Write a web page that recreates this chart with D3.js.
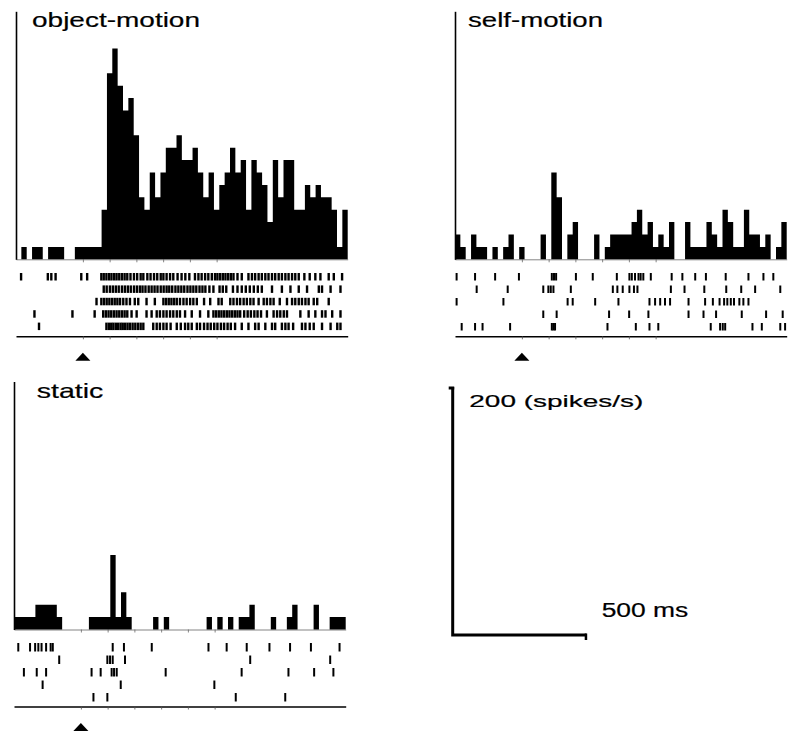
<!DOCTYPE html>
<html><head><meta charset="utf-8">
<script src="https://cdn.jsdelivr.net/npm/d3@7"></script>
<style>html,body{margin:0;padding:0;background:#fff}</style>
</head><body>
<svg id="chart" width="793" height="733" xmlns="http://www.w3.org/2000/svg"></svg>
<script>
// ---------- data ----------
const binMs = 20;            // histogram bin width (ms)
const nBins = 62;            // bins per histogram
const stimOnset = 250;       // ms, marked by the triangle
const tickTimes = [250, 350, 450, 550, 650, 750];
const panelTitles = ["object-motion", "self-motion", "static"];
const scaleRate = 200;       // spikes/s
const scaleTime = 500;       // ms
const scaleLabels = ["200 (spikes/s)", "500 ms"];

// firing rate per 20 ms bin (spikes/s)
const objectMotion = [0,10,0,10,10,0,10,10,10,0,0,10,10,10,10,10,40,150,170,140,120,130,100,50,40,70,50,70,90,90,100,80,80,90,70,50,70,40,60,70,90,70,80,40,80,70,60,30,80,50,80,80,40,40,60,50,60,50,50,40,10,40];
const selfMotion = [20,10,0,20,10,10,0,10,0,10,20,0,10,0,0,0,20,0,70,50,0,20,30,0,0,0,20,0,10,20,20,20,20,30,40,20,30,10,20,10,30,0,0,30,10,10,10,30,20,10,40,30,10,10,40,20,20,10,20,0,10,30];
const staticRate = [10,10,10,10,20,20,20,20,10,0,0,0,0,0,10,10,10,10,60,10,30,10,0,0,0,0,10,0,10,0,0,0,0,0,0,0,10,0,10,0,10,0,10,10,20,0,0,0,10,0,0,10,20,0,0,0,20,0,0,10,10,10];

// spike times (ms) of the five trials
const objectRaster = [
  [19,119,132,148,244,266,319,328,338,348,357,367,376,386,396,406,416,428,441,453,466,476,491,503,516,528,541,551,563,576,588,604,619,633,648,669,682,694,707,719,732,744,753,763,773,783,793,803,813,828,844,869,882,894,907,919,932,944,957,969,982,994,1007,1019,1032,1044,1057,1078,1098,1119,1138,1169,1188,1219],
  [328,339,351,362,373,384,396,407,418,429,441,452,463,473,484,496,507,518,529,541,552,563,573,584,596,607,618,629,641,652,663,674,686,697,708,723,738,761,773,786,811,828,844,859,874,889,904,919,957,994,1026,1057,1088,1132,1144,1176,1213],
  [301,319,329,339,349,359,369,379,389,401,413,426,444,457,488,519,551,561,571,581,591,601,613,626,638,651,663,676,703,726,757,769,801,813,826,838,851,863,876,888,907,926,938,951,963,986,1013,1032,1044,1057,1069,1082,1094,1113,1126,1169],
  [69,211,294,326,336,346,356,366,376,386,396,406,416,432,451,488,507,526,538,551,563,576,588,601,613,632,657,688,719,738,748,758,768,778,788,798,808,818,828,838,853,866,878,891,903,916,938,963,976,988,1001,1013,1063,1094,1119,1144,1157,1182,1213],
  [86,338,347,356,364,373,382,391,399,408,417,426,436,446,456,466,476,513,526,538,551,563,578,601,616,632,644,657,676,688,703,716,728,741,753,766,778,791,803,819,844,869,894,907,932,957,969,994,1007,1019,1036,1069,1082,1098,1113,1144,1176,1201,1213]
];
const selfRaster = [
  [6,75,150,239,362,370,378,452,515,605,652,661,673,686,694,704,732,810,850,898,938,1012,1097,1153,1190],
  [81,197,330,349,358,368,433,590,607,627,652,669,682,807,858,932,1014,1070,1122,1216],
  [6,181,421,440,524,611,727,748,767,785,804,873,935,964,989,1006,1018,1031,1043,1063,1078,1097],
  [330,380,576,651,723,873,929,976,1072,1163,1225],
  [25,75,103,206,362,368,374,570,676,727,760,956,991,1001,1010,1112,1147,1216,1234]
];
const staticRaster = [
  [16,60,79,91,103,120,137,145,369,411,515,727,795,870,955,1032,1110,1217],
  [169,349,359,369,415,883,1182],
  [37,85,120,290,324,365,374,384,567,851,1026,1122,1194],
  [107,399,749],
  [297,349,829,1014]
];

// ---------- layout ----------
const pxPerMs = 331.7 / 1240;
const pxPerRate = 248 / 200;
const font = "'Liberation Sans', Arial, Helvetica, sans-serif";

const panels = [
  {title: panelTitles[0], rates: objectMotion, raster: objectRaster, x0: 16,  base: 259.3, tx: 32,   ty: 27,    tw: 168, rowTop: 13.7, rowStep: 12.4, tickH: 7.5, tickW: 2.4},
  {title: panelTitles[1], rates: selfMotion,   raster: selfRaster,   x0: 455, base: 259.3, tx: 468,  ty: 27.3,  tw: 135, rowTop: 13.7, rowStep: 12.5, tickH: 7.5, tickW: 2.0},
  {title: panelTitles[2], rates: staticRate,   raster: staticRaster, x0: 14,  base: 629.5, tx: 36.7, ty: 398.3, tw: 66.6, rowTop: 13.5, rowStep: 12.5, tickH: 8.5, tickW: 2.0}
];

const svg = d3.select("#chart");

panels.forEach(p => {
  const g = svg.append("g");
  const span = nBins * binMs;
  const x = d3.scaleLinear().domain([0, span]).range([p.x0, p.x0 + span * pxPerMs]);
  const y = d3.scaleLinear().domain([0, scaleRate]).range([p.base, p.base - scaleRate * pxPerRate]);

  // faint histogram baseline with small ticks
  g.append("g")
    .attr("transform", `translate(0,${p.base})`)
    .call(d3.axisBottom(x).tickValues(tickTimes).tickSize(3).tickSizeOuter(0).tickFormat(""))
    .call(a => a.selectAll("path,line").attr("stroke", "#666").attr("stroke-width", 0.8));

  // histogram as a step area built from the bins
  const steps = p.rates.map((v, i) => ({t: i * binMs, v}));
  steps.push({t: nBins * binMs, v: p.rates[nBins - 1]});
  const area = d3.area()
    .x(d => x(d.t))
    .y0(y(0))
    .y1(d => y(d.v))
    .curve(d3.curveStepAfter);
  g.append("path")
    .datum(steps)
    .attr("d", area)
    .attr("fill", "#000");

  // vertical axis line
  g.append("g")
    .attr("transform", `translate(${p.x0},0)`)
    .call(d3.axisLeft(y).tickValues([]).tickSizeOuter(0))
    .call(a => a.select("path").attr("stroke", "#000").attr("stroke-width", 1.6));

  // title
  g.append("text")
    .attr("x", p.tx).attr("y", p.ty)
    .attr("font-family", font).attr("font-size", 21)
    .attr("textLength", p.tw).attr("lengthAdjust", "spacingAndGlyphs")
    .attr("fill", "#000").attr("stroke", "#000").attr("stroke-width", 0.2)
    .text(p.title);

  // raster
  p.raster.forEach((row, r) => {
    const top = p.base + p.rowTop + r * p.rowStep;
    g.append("g").selectAll("line")
      .data(row)
      .join("line")
      .attr("x1", d => x(d)).attr("x2", d => x(d))
      .attr("y1", top).attr("y2", top + p.tickH)
      .attr("stroke", "#000").attr("stroke-width", p.tickW);
  });

  // raster baseline
  const rb = p.base + 77;
  g.append("g")
    .attr("transform", `translate(0,${rb})`)
    .call(d3.axisBottom(x).tickValues(tickTimes).tickSize(3).tickSizeOuter(0).tickFormat(""))
    .call(a => a.select("path").attr("stroke", "#000").attr("stroke-width", 1.5))
    .call(a => a.selectAll("line").attr("stroke", "#555").attr("stroke-width", 0.8));

  // stimulus onset triangle
  const tx = x(stimOnset), tt = p.base + 93.5;
  g.append("path")
    .attr("d", `M${tx - 7.5},${tt + 8}L${tx + 7.5},${tt + 8}L${tx},${tt}Z`)
    .attr("fill", "#000");
});

// ---------- scale bar ----------
const ox = 452.7, oy = 635;
const sx = d3.scaleLinear().domain([0, scaleTime]).range([ox, ox + scaleTime * pxPerMs]);
const sy = d3.scaleLinear().domain([0, scaleRate]).range([oy, oy - scaleRate * pxPerRate]);
const sb = svg.append("g");
sb.append("path")
  .attr("d", `M${sx(0)},${sy(scaleRate)}L${sx(0)},${sy(0)}L${sx(scaleTime)},${sy(0)}`)
  .attr("fill", "none").attr("stroke", "#000").attr("stroke-width", 3);
sb.append("line")
  .attr("x1", sx(0) - 4).attr("x2", sx(0) + 1.5)
  .attr("y1", sy(scaleRate) + 1).attr("y2", sy(scaleRate) + 1)
  .attr("stroke", "#000").attr("stroke-width", 3);
sb.append("line")
  .attr("x1", sx(scaleTime) - 0.5).attr("x2", sx(scaleTime) - 0.5)
  .attr("y1", sy(0) - 1.5).attr("y2", sy(0) + 5)
  .attr("stroke", "#000").attr("stroke-width", 2.5);
sb.append("text")
  .attr("x", 469.3).attr("y", 407.3)
  .attr("font-family", font).attr("font-size", 17)
  .attr("textLength", 174).attr("lengthAdjust", "spacingAndGlyphs")
  .attr("stroke", "#000").attr("stroke-width", 0.2)
  .text(scaleLabels[0]);
sb.append("text")
  .attr("x", 601.7).attr("y", 617)
  .attr("font-family", font).attr("font-size", 20)
  .attr("textLength", 86.6).attr("lengthAdjust", "spacingAndGlyphs")
  .attr("stroke", "#000").attr("stroke-width", 0.2)
  .text(scaleLabels[1]);
</script>
</body></html>
